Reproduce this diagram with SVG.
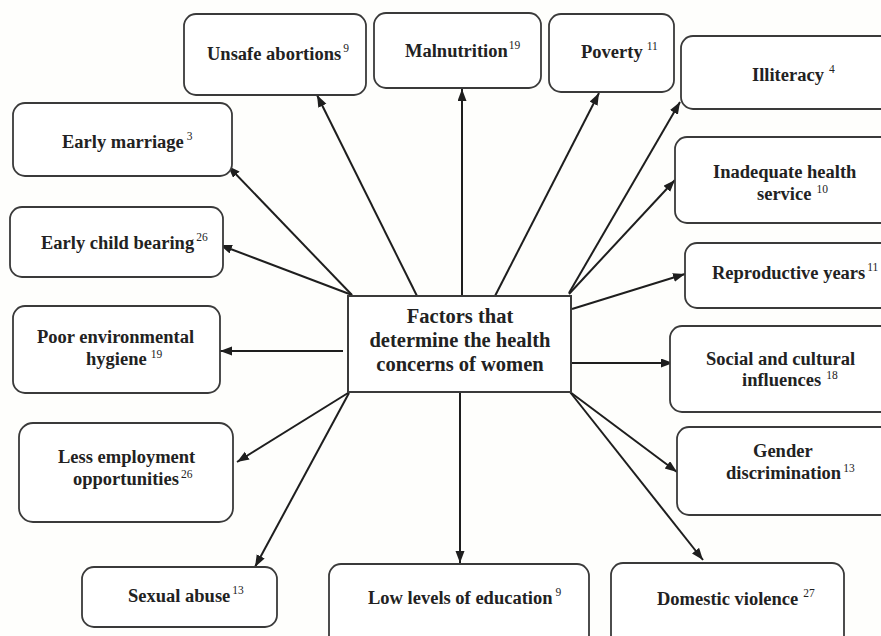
<svg xmlns="http://www.w3.org/2000/svg" width="881" height="636" viewBox="0 0 881 636">
<style>
.box{fill:#fff;stroke:#3a3a3a;stroke-width:1.8}
.ctr{fill:#fff;stroke:#3a3a3a;stroke-width:2}
.t{font-family:"Liberation Serif","Times New Roman",serif;font-weight:bold;font-size:18.5px;fill:#222}
.ct{font-family:"Liberation Serif","Times New Roman",serif;font-weight:bold;font-size:20.5px;fill:#222;text-anchor:middle}
.s{font-weight:normal;font-size:11.5px}
.c line{stroke:#1e1e1e;stroke-width:2;marker-end:url(#ah)}
</style>
<defs>
<marker id="ah" markerUnits="userSpaceOnUse" markerWidth="13" markerHeight="10" refX="12" refY="4.5" orient="auto" viewBox="0 0 13 10">
<path d="M0,0 L12,4.5 L0,9 z" fill="#1e1e1e"/>
</marker>
</defs>
<rect width="881" height="636" fill="#fefefc"/>
<g class="c" id="connectors">
<line x1="352" y1="295" x2="228" y2="166"/>
<line x1="352" y1="295" x2="220" y2="245"/>
<line x1="417" y1="296" x2="317" y2="95"/>
<line x1="462" y1="296" x2="462" y2="89"/>
<line x1="495" y1="296" x2="599" y2="93"/>
<line x1="569" y1="293" x2="680" y2="102"/>
<line x1="569" y1="294" x2="675" y2="180"/>
<line x1="572" y1="309" x2="685" y2="274"/>
<line x1="571" y1="363" x2="673" y2="363"/>
<line x1="570" y1="392" x2="677" y2="472"/>
<line x1="570" y1="392" x2="703" y2="560"/>
<line x1="460" y1="392" x2="460" y2="563"/>
<line x1="348" y1="393" x2="237" y2="462"/>
<line x1="349" y1="393" x2="255" y2="567"/>
<line x1="343" y1="351" x2="220" y2="351"/>
</g>
<g id="center">
<rect class="ctr" x="348" y="296" width="223" height="96"/>
<text class="ct" x="460" y="323">Factors that</text>
<text class="ct" x="460" y="347">determine the health</text>
<text class="ct" x="460" y="371">concerns of women</text>
</g>
<g id="unsafe-abortions">
<rect class="box" x="184" y="14" width="182" height="81" rx="12"/>
<text class="t" x="207" y="60">Unsafe abortions<tspan class="s" dx="2" dy="-8">9</tspan></text>
</g>
<g id="malnutrition">
<rect class="box" x="374" y="13" width="167" height="75" rx="12"/>
<text class="t" x="405" y="57">Malnutrition<tspan class="s" dx="1" dy="-8">19</tspan></text>
</g>
<g id="poverty">
<rect class="box" x="549" y="14" width="125" height="78" rx="12"/>
<text class="t" x="581" y="58">Poverty<tspan class="s" dx="4" dy="-8">11</tspan></text>
</g>
<g id="illiteracy">
<rect class="box" x="681" y="36" width="215" height="73" rx="12"/>
<text class="t" x="752" y="81">Illiteracy<tspan class="s" dx="5" dy="-8">4</tspan></text>
</g>
<g id="inadequate-health-service">
<rect class="box" x="675" y="137" width="220" height="86" rx="12"/>
<text class="t" x="713" y="178">Inadequate health</text>
<text class="t" x="757" y="200">service<tspan class="s" dx="5" dy="-7">10</tspan></text>
</g>
<g id="reproductive-years">
<rect class="box" x="685" y="243" width="210" height="65" rx="12"/>
<text class="t" x="712" y="279">Reproductive years<tspan class="s" dx="2" dy="-8">11</tspan></text>
</g>
<g id="social-cultural">
<rect class="box" x="670" y="326" width="225" height="86" rx="12"/>
<text class="t" x="706" y="365">Social and cultural</text>
<text class="t" x="742" y="386">influences<tspan class="s" dx="5" dy="-7">18</tspan></text>
</g>
<g id="gender-discrimination">
<rect class="box" x="677" y="427" width="218" height="88" rx="12"/>
<text class="t" x="753" y="457">Gender</text>
<text class="t" x="726" y="479">discrimination<tspan class="s" dx="2" dy="-7">13</tspan></text>
</g>
<g id="domestic-violence">
<rect class="box" x="611" y="563" width="233" height="85" rx="12"/>
<text class="t" x="657" y="605">Domestic violence<tspan class="s" dx="5" dy="-8">27</tspan></text>
</g>
<g id="low-education">
<rect class="box" x="329" y="564" width="260" height="85" rx="12"/>
<text class="t" x="368" y="604">Low levels of education<tspan class="s" dx="3" dy="-8">9</tspan></text>
</g>
<g id="sexual-abuse">
<rect class="box" x="82" y="567" width="195" height="60" rx="12"/>
<text class="t" x="128" y="602">Sexual abuse<tspan class="s" dx="2" dy="-8">13</tspan></text>
</g>
<g id="less-employment">
<rect class="box" x="19" y="423" width="214" height="99" rx="14"/>
<text class="t" x="58" y="463">Less employment</text>
<text class="t" x="73" y="485">opportunities<tspan class="s" dx="2" dy="-7">26</tspan></text>
</g>
<g id="poor-hygiene">
<rect class="box" x="13" y="306" width="207" height="87" rx="12"/>
<text class="t" x="37" y="343">Poor environmental</text>
<text class="t" x="86" y="365">hygiene<tspan class="s" dx="4" dy="-7">19</tspan></text>
</g>
<g id="early-child-bearing">
<rect class="box" x="10" y="207" width="213" height="70" rx="12"/>
<text class="t" x="41" y="249">Early child bearing<tspan class="s" dx="2" dy="-8">26</tspan></text>
</g>
<g id="early-marriage">
<rect class="box" x="13" y="103" width="219" height="73" rx="12"/>
<text class="t" x="62" y="148">Early marriage<tspan class="s" dx="3" dy="-8">3</tspan></text>
</g>
</svg>
